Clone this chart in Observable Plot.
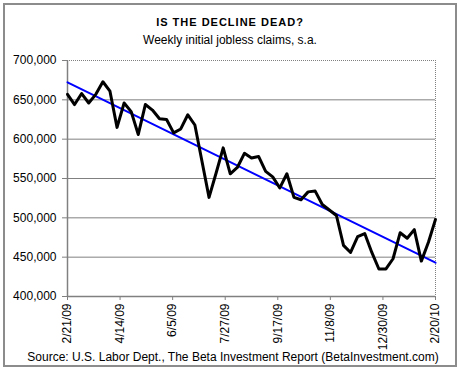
<!DOCTYPE html>
<html><head><meta charset="utf-8">
<script src="https://cdn.jsdelivr.net/npm/d3@7"></script>
<script src="https://cdn.jsdelivr.net/npm/@observablehq/plot@0.6"></script>
<style>
body{margin:0;background:#fff;font-family:"Liberation Sans",Arial,sans-serif;color:#000;}
#wrap{position:relative;width:460px;height:370px;overflow:hidden;background:#fff;}
#border{position:absolute;left:3px;top:3px;width:450px;height:360px;border:2px solid #8c8c8c;}
#title{position:absolute;top:16px;left:0;width:460px;text-align:center;font-weight:bold;font-size:11px;letter-spacing:1px;line-height:13px;}
#subtitle{position:absolute;top:33px;left:0;width:460px;text-align:center;font-size:12px;line-height:14px;}
#chart{position:absolute;left:0;top:50px;}
#caption{position:absolute;top:350px;left:0;width:466px;text-align:center;font-size:12px;line-height:14px;}
</style></head>
<body>
<div id="wrap">
  <div id="border"></div>
  <div id="title">IS THE DECLINE DEAD?</div>
  <div id="subtitle">Weekly initial jobless claims, s.a.</div>
  <div id="chart"></div>
  <div id="caption">Source: U.S. Labor Dept., The Beta Investment Report (BetaInvestment.com)</div>
</div>
<script>
const weeks = ["2009-02-21","2009-02-28","2009-03-07","2009-03-14","2009-03-21","2009-03-28",
"2009-04-04","2009-04-11","2009-04-18","2009-04-25","2009-05-02","2009-05-09","2009-05-16",
"2009-05-23","2009-05-30","2009-06-06","2009-06-13","2009-06-20","2009-06-27","2009-07-04",
"2009-07-11","2009-07-18","2009-07-25","2009-08-01","2009-08-08","2009-08-15","2009-08-22",
"2009-08-29","2009-09-05","2009-09-12","2009-09-19","2009-09-26","2009-10-03","2009-10-10",
"2009-10-17","2009-10-24","2009-10-31","2009-11-07","2009-11-14","2009-11-21","2009-11-28",
"2009-12-05","2009-12-12","2009-12-19","2009-12-26","2010-01-02","2010-01-09","2010-01-16",
"2010-01-23","2010-01-30","2010-02-06","2010-02-13","2010-02-20"];
const claims = [657000,644000,658000,646000,657000,673000,661000,615000,646000,635000,
606000,644000,637000,626000,625000,608000,613000,631000,618000,572000,
526000,557000,589000,556000,564000,582000,576000,578000,559000,552000,
538000,556000,526000,523000,533000,534000,517000,510000,503000,465000,
456000,476000,480000,456000,435000,435000,448000,481000,474000,485000,
445000,469000,498000];
const xTickLabels = ["2009-02-21","2009-04-14","2009-06-05","2009-07-27","2009-09-17","2009-11-08","2009-12-30","2010-02-20"];
const yTicks = [400000,450000,500000,550000,600000,650000,700000];

const parse = d3.utcParse("%Y-%m-%d");
const data = weeks.map((w,i)=>({date: parse(w), claims: claims[i]}));
const xTicks = xTickLabels.map(parse);
const x0 = xTicks[0], x1 = xTicks[xTicks.length-1];

// least-squares trend (like the spreadsheet trendline)
const n = data.length;
const xs = data.map(d=>+d.date), ys = data.map(d=>d.claims);
const mx = d3.mean(xs), my = d3.mean(ys);
const slope = d3.sum(xs.map((x,i)=>(x-mx)*(ys[i]-my))) / d3.sum(xs.map(x=>(x-mx)*(x-mx)));
const trend = [data[0].date, data[n-1].date].map(d=>({date:d, claims: my + slope*(+d-mx)}));

const chart = Plot.plot({
  width: 460, height: 295,
  marginLeft: 67, marginRight: 25, marginTop: 10, marginBottom: 49,
  style: {fontFamily: "'Liberation Sans', Arial, sans-serif", fontSize: "12px", color: "#000", background: "transparent", overflow: "visible"},
  x: {type: "utc", domain: [x0, x1]},
  y: {domain: [400000, 700000]},
  marks: [
    Plot.ruleY(yTicks.filter(v => v > 400000 && v < 700000), {stroke: "#808080", strokeWidth: 1}),
    Plot.ruleY([700000], {stroke: "#808080", strokeDasharray: "1,1"}),
    Plot.ruleX([x1], {stroke: "#808080", strokeDasharray: "1,1"}),
    Plot.ruleX([x0], {stroke: "#808080", strokeWidth: 1.5}),
    Plot.ruleY([400000], {stroke: "#808080", strokeWidth: 1.5}),
    Plot.axisY({ticks: yTicks, tickFormat: d3.format(","), tickSize: 5, tickPadding: 6, stroke: "#808080", fill: "#000", label: null}),
    Plot.axisX({ticks: xTicks, tickFormat: d3.utcFormat("%-m/%-d/%y"), tickRotate: -90, tickSize: 4, tickPadding: 3, stroke: "#808080", fill: "#000", label: null}),
    Plot.line(trend, {x: "date", y: "claims", stroke: "#0000ff", strokeWidth: 2}),
    Plot.line(data, {x: "date", y: "claims", stroke: "#000", strokeWidth: 3, strokeLinejoin: "round"})
  ]
});
document.getElementById("chart").appendChild(chart);
</script>
</body></html>
